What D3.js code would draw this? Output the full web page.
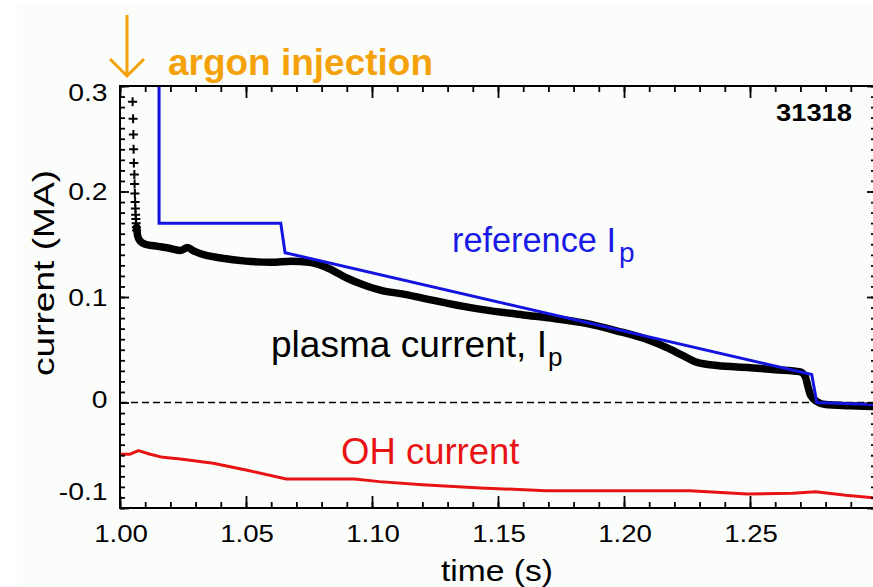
<!DOCTYPE html>
<html><head><meta charset="utf-8">
<script src="https://cdn.jsdelivr.net/npm/d3@7"></script>
<style>
html,body{margin:0;padding:0;background:#fff;}
svg{display:block;}
text{font-family:"Liberation Sans",Arial,Helvetica,sans-serif;}
</style></head>
<body>
<svg id="chart" width="873" height="587"></svg>
<script>
// ---- data ----
const xTickValues = [1.00, 1.05, 1.10, 1.15, 1.20, 1.25];
const xTickLabels = ["1.00", "1.05", "1.10", "1.15", "1.20", "1.25"];
const yTickValues = [-0.1, 0, 0.1, 0.2, 0.3];
const yTickLabels = ["-0.1", "0", "0.1", "0.2", "0.3"];

// plasma current, early sparse samples (drawn as + markers)
const ipMarkerTime = [1.0050,1.0052,1.0053,1.0054,1.0055,1.0057,1.0058,1.0059,1.0060,1.0061,1.0062,1.0063,1.0064,1.0065,1.0066];
const ipMarkerVal  = [0.285,0.269,0.254,0.240,0.227,0.216,0.207,0.198,0.190,0.184,0.178,0.174,0.170,0.166,0.163];

// plasma current, dense trace
const ipTime = [1.0066,1.0070,1.0080,1.0100,1.0150,1.0200,1.0240,1.0258,1.0268,1.0290,1.0320,1.0400,1.0500,1.0600,1.0680,1.0750,1.0820,1.0900,1.0960,1.1040,1.1120,1.1200,1.1300,1.1440,1.1600,1.1710,1.1850,1.1970,1.2100,1.2170,1.2230,1.2290,1.2370,1.2500,1.2600,1.2700,1.2720,1.2730,1.2740,1.2765,1.2800,1.2900,1.3000];
const ipVal  = [0.166,0.158,0.153,0.150,0.148,0.146,0.144,0.146,0.147,0.144,0.141,0.137,0.134,0.133,0.134,0.133,0.128,0.118,0.112,0.106,0.103,0.099,0.094,0.088,0.083,0.080,0.075,0.068,0.059,0.052,0.045,0.038,0.035,0.033,0.031,0.029,0.024,0.015,0.007,0.001,-0.002,-0.003,-0.004];

// reference Ip
const refTime = [1.0155,1.0155,1.0638,1.0655,1.2745,1.2765,1.3000];
const refVal  = [0.330,0.170,0.170,0.142,0.0265,0.000,-0.002];

// OH current
const ohTime = [1.000,1.004,1.0073,1.012,1.017,1.024,1.037,1.050,1.066,1.093,1.103,1.120,1.143,1.169,1.226,1.249,1.267,1.276,1.288,1.300];
const ohVal  = [-0.049,-0.049,-0.0456,-0.049,-0.052,-0.0535,-0.0576,-0.064,-0.0725,-0.0725,-0.075,-0.078,-0.081,-0.0836,-0.0836,-0.0867,-0.086,-0.0845,-0.088,-0.0905];

const shotNumber = "31318";

// ---- layout ----
const svg = d3.select("#chart");
const L = 120, R = 876, T = 86, B = 508;
const x = d3.scaleLinear().domain([1.0, 1.3]).range([L, R]);
const y = d3.scaleLinear().domain([-0.1, 0.3]).range([B, T]);

svg.append("rect").attr("x",0).attr("y",0).attr("width",873).attr("height",587).attr("fill","#ffffff");
svg.append("rect").attr("x",17).attr("y",5).attr("width",856).attr("height",582).attr("fill","#fbfdfb");

svg.append("defs").append("clipPath").attr("id","plotclip")
  .append("rect").attr("x",L).attr("y",T).attr("width",R-L).attr("height",B-T);

// zero line
svg.append("line").attr("x1",L).attr("x2",R).attr("y1",y(0)).attr("y2",y(0))
  .attr("stroke","#000").attr("stroke-width",1.5).attr("stroke-dasharray","7,4");

const plot = svg.append("g").attr("clip-path","url(#plotclip)");
const line = d3.line().x(d=>x(d[0])).y(d=>y(d[1]));

// OH current
plot.append("path").datum(ohTime.map((t,i)=>[t,ohVal[i]]))
  .attr("d",line).attr("fill","none").attr("stroke","#e81414").attr("stroke-width",3).attr("stroke-linejoin","round");

// plasma current trace
plot.append("path").datum(ipTime.map((t,i)=>[t,ipVal[i]]))
  .attr("d",d3.line().x(d=>x(d[0])).y(d=>y(d[1])).curve(d3.curveMonotoneX))
  .attr("fill","none").attr("stroke","#000").attr("stroke-width",7.5).attr("stroke-linejoin","round").attr("stroke-linecap","round");

// plus markers
const pm = plot.append("g");
ipMarkerTime.forEach((t,i)=>{
  const cx = x(t), cy = y(ipMarkerVal[i]);
  pm.append("path").attr("d",`M${cx-4.5},${cy}H${cx+4.5}M${cx},${cy-4.5}V${cy+4.5}`)
    .attr("stroke","#000").attr("stroke-width",2).attr("fill","none");
});

// reference Ip
plot.append("path").datum(refTime.map((t,i)=>[t,refVal[i]]))
  .attr("d",line).attr("fill","none").attr("stroke","#1414e0").attr("stroke-width",3).attr("stroke-linejoin","miter");

// ---- axes (ticks inward) ----
const xMinor = d3.range(0,31).map(i=>1.0+i*0.01);
const yMinor = d3.range(0,41).map(i=>-0.1+i*0.01);
function styleAxis(g){ g.select(".domain").remove(); g.selectAll("line").attr("stroke","#000").attr("stroke-width",1.8); }
svg.append("g").attr("transform",`translate(0,${B})`).call(d3.axisBottom(x).tickValues(xMinor).tickSize(-6).tickFormat("")).call(styleAxis);
svg.append("g").attr("transform",`translate(0,${B})`).call(d3.axisBottom(x).tickValues(xTickValues).tickSize(-12).tickFormat("")).call(styleAxis);
svg.append("g").attr("transform",`translate(0,${T})`).call(d3.axisTop(x).tickValues(xMinor).tickSize(-6).tickFormat("")).call(styleAxis);
svg.append("g").attr("transform",`translate(0,${T})`).call(d3.axisTop(x).tickValues(xTickValues).tickSize(-12).tickFormat("")).call(styleAxis);
svg.append("g").attr("transform",`translate(${L},0)`).call(d3.axisLeft(y).tickValues(yMinor).tickSize(-5).tickFormat("")).call(styleAxis);
svg.append("g").attr("transform",`translate(${L},0)`).call(d3.axisLeft(y).tickValues(yTickValues).tickSize(-9).tickFormat("")).call(styleAxis);
svg.append("g").attr("transform",`translate(${R},0)`).call(d3.axisRight(y).tickValues(yMinor).tickSize(-5).tickFormat("")).call(styleAxis);
svg.append("g").attr("transform",`translate(${R},0)`).call(d3.axisRight(y).tickValues(yTickValues).tickSize(-9).tickFormat("")).call(styleAxis);

// frame
svg.append("rect").attr("x",L).attr("y",T).attr("width",R-L).attr("height",B-T)
  .attr("fill","none").attr("stroke","#000").attr("stroke-width",2);

// tick labels
xTickValues.forEach((v,i)=>{
  svg.append("text").attr("transform",`translate(${x(v)+1},542) scale(1.15,1)`)
    .attr("text-anchor","middle").attr("font-size",24).attr("fill","#000").text(xTickLabels[i]);
});
yTickValues.forEach((v,i)=>{
  let by = y(v) + 8.6;
  if (i === yTickValues.length-1) by = 101;
  if (i === 0) by = 500;
  if (v === 0) by = 407.5;
  svg.append("text").attr("transform",`translate(107.5,${by}) scale(1.18,1)`)
    .attr("text-anchor","end").attr("font-size",24).attr("fill","#000").text(yTickLabels[i]);
});

// axis titles
svg.append("text").attr("x",497).attr("y",581).attr("text-anchor","middle")
  .attr("font-size",29).attr("textLength",112).attr("lengthAdjust","spacingAndGlyphs").text("time (s)");
svg.append("text").attr("transform","translate(54,273) rotate(-90)").attr("text-anchor","middle")
  .attr("font-size",30).attr("textLength",206).attr("lengthAdjust","spacingAndGlyphs").text("current (MA)");

// shot number
svg.append("text").attr("x",852).attr("y",121).attr("text-anchor","end").attr("font-weight","bold")
  .attr("font-size",24).attr("textLength",76).attr("lengthAdjust","spacingAndGlyphs").text(shotNumber);

// annotations
const orange = "#f5a20a";
svg.append("path").attr("d","M127,15V76M110,59L127,76L144,59").attr("fill","none")
  .attr("stroke",orange).attr("stroke-width",3);
svg.append("text").attr("x",168).attr("y",75).attr("font-weight","bold").attr("font-size",36)
  .attr("fill",orange).attr("textLength",265).attr("lengthAdjust","spacingAndGlyphs").text("argon injection");

svg.append("text").attr("x",452).attr("y",252).attr("font-size",35).attr("fill","#1a1ae6")
  .attr("textLength",164).attr("lengthAdjust","spacingAndGlyphs").text("reference I");
svg.append("text").attr("x",619).attr("y",262).attr("font-size",28).attr("fill","#1a1ae6").text("p");

svg.append("text").attr("x",271).attr("y",357).attr("font-size",36).attr("fill","#000")
  .attr("textLength",276).attr("lengthAdjust","spacingAndGlyphs").text("plasma current, I");
svg.append("text").attr("x",548).attr("y",366).attr("font-size",26).attr("fill","#000").text("p");

svg.append("text").attr("x",341).attr("y",464).attr("font-size",36.5).attr("fill","#e81414").text("OH current");
</script>
</body></html>
